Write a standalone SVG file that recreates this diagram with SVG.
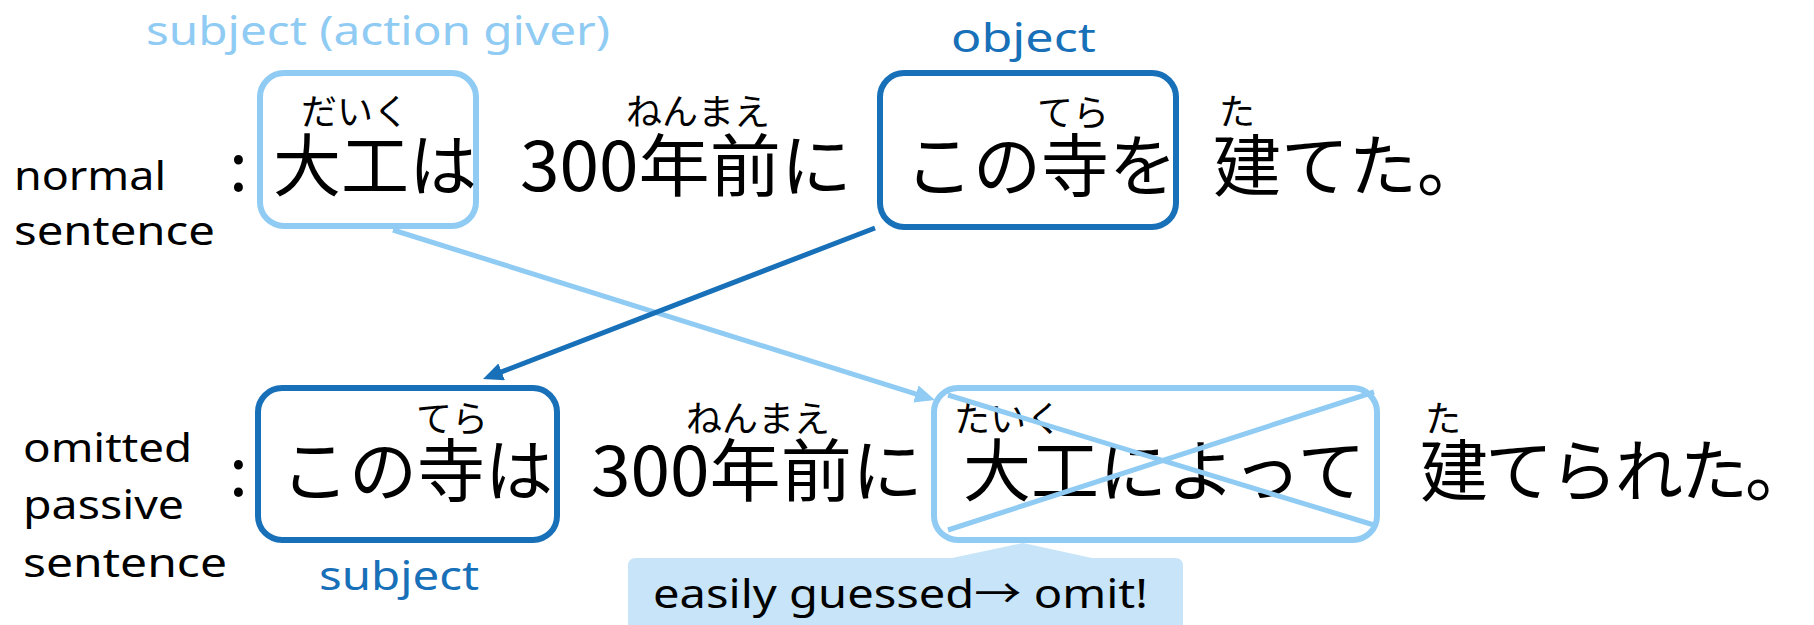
<svg xmlns="http://www.w3.org/2000/svg" width="1814" height="625" viewBox="0 0 1814 625">
<style>
.jp{font-family:"Noto Sans CJK JP","Noto Sans",sans-serif;font-size:68px;fill:#000}
.rb{font-family:"Noto Sans CJK JP","Noto Sans",sans-serif;font-size:36px;fill:#000}
.lb{font-family:"Noto Sans","Noto Sans CJK JP",sans-serif;font-size:40px;fill:#000}
.lt{fill:#8FCBF3}
.dk{fill:#1870B8}
.boxL{fill:none;stroke:#8FCBF3;stroke-width:6}
.boxD{fill:none;stroke:#1870B8;stroke-width:6}
.cnL{fill:none;stroke:#8FCBF3;stroke-width:5}
.cnD{fill:none;stroke:#1870B8;stroke-width:5}
</style>
<defs>
<marker id="arrL" markerUnits="userSpaceOnUse" markerWidth="20" markerHeight="18" refX="8" refY="9" orient="auto"><path d="M0,0 L20,9 L0,18 z" fill="#8FCBF3"/></marker>
<marker id="arrD" markerUnits="userSpaceOnUse" markerWidth="20" markerHeight="18" refX="8" refY="9" orient="auto"><path d="M0,0 L20,9 L0,18 z" fill="#1870B8"/></marker>
</defs>
<rect width="1814" height="625" fill="#fff"/>

<g id="row-labels">
<text class="lb" x="14" y="190" textLength="152" lengthAdjust="spacingAndGlyphs">normal</text>
<text class="lb" x="14" y="245" textLength="201" lengthAdjust="spacingAndGlyphs">sentence</text>
<text class="lb" x="23" y="462" textLength="169" lengthAdjust="spacingAndGlyphs">omitted</text>
<text class="lb" x="23" y="519" textLength="161" lengthAdjust="spacingAndGlyphs">passive</text>
<text class="lb" x="23" y="577" textLength="204" lengthAdjust="spacingAndGlyphs">sentence</text>
</g>

<g id="connectors">
<path class="cnL" d="M393,230 L923.5,396.4" marker-end="url(#arrL)"/>
<path class="cnD" d="M875,228 L494.2,374.7" marker-end="url(#arrD)"/>
</g>

<g id="node-daiku-top">
<text class="lb lt" x="146" y="45" textLength="464" lengthAdjust="spacingAndGlyphs">subject (action giver)</text>
<rect class="boxL" x="260" y="73" width="216" height="153" rx="24"/>
<text class="rb" x="301" y="125">だいく</text>
<text class="jp" x="273" y="191">大工は</text>
</g>

<g id="sentence1">
<text class="jp" x="229" y="191">:</text>
<text class="rb" x="626" y="125">ねんまえ</text>
<text class="jp" x="520" y="191" textLength="332" lengthAdjust="spacingAndGlyphs">300年前に</text>
<text class="rb" x="1219" y="125" font-size="34">た</text>
<text class="jp" x="1213" y="191">建てた。</text>
</g>

<g id="node-tera-top">
<text class="lb dk" x="951" y="52" textLength="145" lengthAdjust="spacingAndGlyphs">object</text>
<rect class="boxD" x="880" y="73" width="296" height="154" rx="24"/>
<text class="rb" x="1037" y="126">てら</text>
<text class="jp" x="905" y="191">この寺を</text>
</g>

<g id="node-tera-bottom">
<rect class="boxD" x="258" y="388" width="299" height="152" rx="24"/>
<text class="rb" x="416" y="432">てら</text>
<text class="jp" x="281" y="496">この寺は</text>
<text class="lb dk" x="319" y="590" textLength="160" lengthAdjust="spacingAndGlyphs">subject</text>
</g>

<g id="sentence2">
<text class="jp" x="229" y="496">:</text>
<text class="rb" x="686" y="432">ねんまえ</text>
<text class="jp" x="591" y="496" textLength="332" lengthAdjust="spacingAndGlyphs">300年前に</text>
<text class="rb" x="1425" y="432" font-size="34">た</text>
<text class="jp" x="1420" y="496" letter-spacing="-3">建てられた。</text>
</g>

<g id="node-daiku-bottom">
<rect class="boxL" x="934" y="388" width="443" height="152" rx="24"/>
<text class="rb" x="954" y="432" font-size="33">たいく</text>
<text class="jp" x="963" y="496">大工によって</text>
<path class="cnL" d="M948,395 L1374,525 M948,530 L1374,392"/>
</g>

<g id="node-callout">
<path d="M636,558 L952,558 L1023,543 L1092,558 L1175,558 Q1183,558 1183,566 L1183,640 L628,640 L628,566 Q628,558 636,558 Z" fill="#C7E4F8"/>
<text class="lb" x="653" y="608" font-size="44" textLength="495" lengthAdjust="spacingAndGlyphs">easily guessed→ omit!</text>
</g>
</svg>
